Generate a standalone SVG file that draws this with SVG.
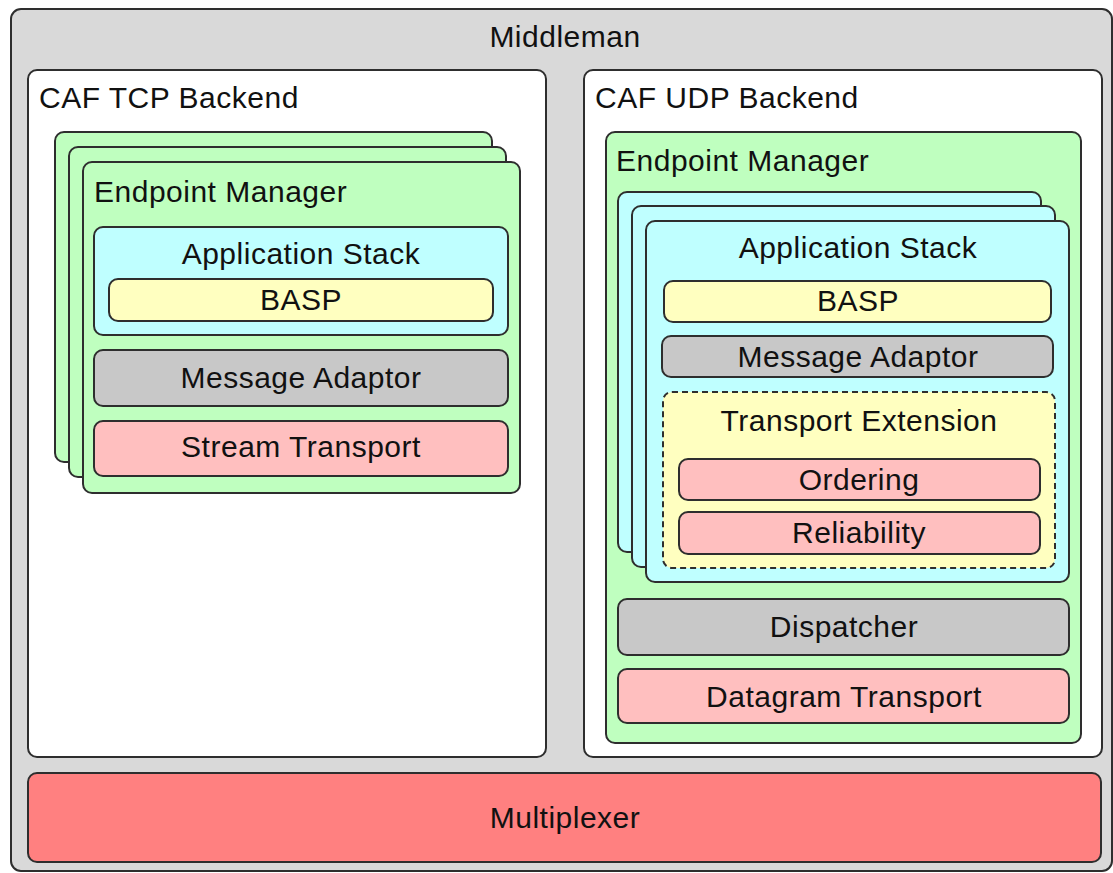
<svg xmlns="http://www.w3.org/2000/svg" width="1113" height="873" viewBox="0 0 1113 873">
<style>
rect{stroke:#2e2e2e;stroke-width:2}
.gray{fill:#d9d9d9}
.white{fill:#ffffff}
.green{fill:#bfffbf}
.blue{fill:#bfffff}
.yellow{fill:#ffffc0}
.mid{fill:#c8c8c8}
.pink{fill:#ffbfbf}
.red{fill:#ff8080}
.dash{stroke-dasharray:6 4}
text{font-family:"Liberation Sans",Arial,Helvetica,sans-serif;font-size:30px;letter-spacing:0.5px;fill:#111}
.c{text-anchor:middle}
</style>
<g id="middleman">
<rect class="gray" x="11" y="9" width="1101" height="862" rx="10"/>
<text class="c" x="565" y="47">Middleman</text>
</g>
<g id="tcp-backend">
<rect class="white" x="28" y="70" width="518" height="687" rx="9"/>
<text x="39" y="108">CAF TCP Backend</text>
</g>
<g id="tcp-endpoint-manager">
<rect class="green" x="55" y="132" width="437" height="330" rx="9"/>
<rect class="green" x="69" y="147" width="437" height="330" rx="9"/>
<rect class="green" x="83" y="162" width="437" height="331" rx="9"/>
<text x="94" y="202">Endpoint Manager</text>
</g>
<g id="tcp-application-stack">
<rect class="blue" x="94" y="227" width="414" height="108" rx="9"/>
<text class="c" x="301" y="264">Application Stack</text>
</g>
<g id="tcp-basp">
<rect class="yellow" x="109" y="279" width="384" height="42" rx="9"/>
<text class="c" x="301" y="310">BASP</text>
</g>
<g id="tcp-message-adaptor">
<rect class="mid" x="94" y="350" width="414" height="56" rx="9"/>
<text class="c" x="301" y="388">Message Adaptor</text>
</g>
<g id="tcp-stream-transport">
<rect class="pink" x="94" y="421" width="414" height="55" rx="9"/>
<text class="c" x="301" y="457">Stream Transport</text>
</g>
<g id="udp-backend">
<rect class="white" x="584" y="70" width="518" height="687" rx="9"/>
<text x="595" y="108">CAF UDP Backend</text>
</g>
<g id="udp-endpoint-manager">
<rect class="green" x="606" y="132" width="475" height="611" rx="9"/>
<text x="616" y="171">Endpoint Manager</text>
</g>
<g id="udp-application-stack">
<rect class="blue" x="618" y="192" width="423" height="360" rx="9"/>
<rect class="blue" x="632" y="206" width="423" height="361" rx="9"/>
<rect class="blue" x="646" y="221" width="423" height="361" rx="9"/>
<text class="c" x="858" y="258">Application Stack</text>
</g>
<g id="udp-basp">
<rect class="yellow" x="664" y="281" width="387" height="41" rx="9"/>
<text class="c" x="858" y="311">BASP</text>
</g>
<g id="udp-message-adaptor">
<rect class="mid" x="662" y="336" width="391" height="41" rx="9"/>
<text class="c" x="858" y="367">Message Adaptor</text>
</g>
<g id="transport-extension">
<rect class="yellow dash" x="663" y="392" width="392" height="176" rx="9"/>
<text class="c" x="859" y="431">Transport Extension</text>
</g>
<g id="ordering">
<rect class="pink" x="679" y="459" width="361" height="41" rx="9"/>
<text class="c" x="859" y="490">Ordering</text>
</g>
<g id="reliability">
<rect class="pink" x="679" y="512" width="361" height="42" rx="9"/>
<text class="c" x="859" y="543">Reliability</text>
</g>
<g id="dispatcher">
<rect class="mid" x="618" y="599" width="451" height="56" rx="9"/>
<text class="c" x="844" y="637">Dispatcher</text>
</g>
<g id="datagram-transport">
<rect class="pink" x="618" y="669" width="451" height="54" rx="9"/>
<text class="c" x="844" y="707">Datagram Transport</text>
</g>
<g id="multiplexer">
<rect class="red" x="28" y="773" width="1073" height="89" rx="9"/>
<text class="c" x="565" y="828">Multiplexer</text>
</g>
<g id="connectors"/>
</svg>
